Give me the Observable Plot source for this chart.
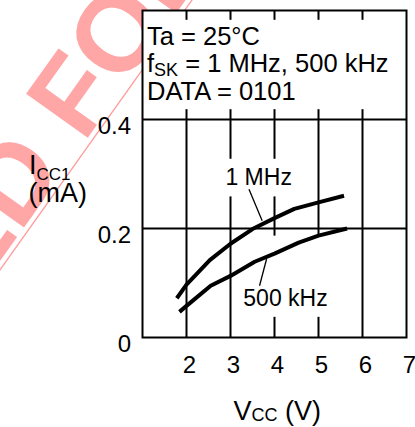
<!DOCTYPE html>
<html><head><meta charset="utf-8">
<script src="https://cdn.jsdelivr.net/npm/d3@7"></script>
<script src="https://cdn.jsdelivr.net/npm/@observablehq/plot@0.6"></script>
<style>html,body{margin:0;padding:0;background:#fff;overflow:hidden}</style>
</head><body><div id="chart"></div>
<script>
// ---- data ----
const vcc1MHz = [1.78, 2.0, 2.53, 3.0, 3.5, 4.0, 4.45, 5.0, 5.58];
const icc1MHz = [0.072, 0.097, 0.142, 0.172, 0.199, 0.219, 0.236, 0.248, 0.260];
const vcc500k = [1.84, 2.0, 2.55, 3.0, 3.55, 4.0, 4.55, 5.0, 5.65];
const icc500k = [0.047, 0.058, 0.095, 0.113, 0.139, 0.154, 0.174, 0.187, 0.200];
const seriesNames = ["1 MHz", "500 kHz"];
const xTicks = [2, 3, 4, 5, 6, 7];
const yTicks = [0, 0.2, 0.4];
const gridX = [2, 3, 4, 5, 6];
const labelX = [3.64, 4.25];
const labelY = [0.293, 0.071];
const leaderFrom = [[3.42, 0.272], [3.82, 0.144]];
const leaderTo = [[3.72, 0.214], [3.66, 0.095]];
const maskX = [[2.89, 4.48], [3.23, 5.34]];
const maskY = [[0.258, 0.327], [0.037, 0.186]];

const FONT = "'Liberation Sans', Arial, Helvetica, sans-serif";

const curves = [
  ...vcc1MHz.map((v, i) => ({s: seriesNames[0], v, i: icc1MHz[i]})),
  ...vcc500k.map((v, i) => ({s: seriesNames[1], v, i: icc500k[i]}))
];
const labels = seriesNames.map((t, k) => ({t, x: labelX[k], y: labelY[k]}));
const leaders = seriesNames.map((t, k) => ({x1: leaderFrom[k][0], y1: leaderFrom[k][1], x2: leaderTo[k][0], y2: leaderTo[k][1]}));
const masks = seriesNames.map((t, k) => ({x1: maskX[k][0], x2: maskX[k][1], y1: maskY[k][0], y2: maskY[k][1]}));
const tickLen = 0.018;

const plot = Plot.plot({
  width: 415, height: 427,
  marginLeft: 142, marginRight: 9, marginTop: 10, marginBottom: 90,
  x: {domain: [1, 7]},
  y: {domain: [0, 0.6]},
  style: {fontFamily: FONT, color: "black", background: "transparent", overflow: "visible"},
  marks: [
    Plot.frame({fill: "white"}),
    Plot.ruleX(gridX, {y1: 0, y2: 0.4, stroke: "black", strokeWidth: 2}),
    Plot.ruleX(gridX, {y1: 0.4, y2: 0.4 + tickLen, stroke: "black", strokeWidth: 2}),
    Plot.ruleX(gridX, {y1: 0.6 - tickLen, y2: 0.6, stroke: "black", strokeWidth: 2}),
    Plot.ruleY([0.2, 0.4], {stroke: "black", strokeWidth: 2}),
    Plot.rect(masks, {x1: "x1", x2: "x2", y1: "y1", y2: "y2", fill: "white"}),
    Plot.line(curves, {x: "v", y: "i", z: "s", stroke: "black", strokeWidth: 4, strokeLinecap: "butt", strokeLinejoin: "round"}),
    Plot.link(leaders, {x1: "x1", y1: "y1", x2: "x2", y2: "y2", stroke: "black", strokeWidth: 1.3}),
    Plot.text(labels, {x: "x", y: "y", text: "t", fontSize: 23, lineAnchor: "middle", fill: "black"}),
    Plot.frame({stroke: "black", strokeWidth: 2}),
    Plot.axisX({ticks: xTicks, tickSize: 0, tickPadding: 18, fontSize: 24, dx: 3, label: null, tickFormat: d => String(d)}),
    Plot.axisY({ticks: yTicks, tickSize: 0, tickPadding: 11.5, fontSize: 24, dy: 6.5, label: null,
      tickFormat: d => d === 0 ? "0" : d.toFixed(1)})
  ]
});
document.getElementById("chart").appendChild(plot);

const svg = d3.select(plot);

// watermark (behind everything)
const wm = svg.insert("g", ":first-child")
  .attr("fill", "#ffa6a6").attr("font-family", FONT).attr("font-weight", "bold").attr("font-size", 110);
wm.append("line").attr("x1", 229).attr("y1", -52).attr("x2", -48.5).attr("y2", 338)
  .attr("stroke", "#ff9a9a").attr("stroke-width", 1.3);
wm.append("text").attr("transform", "translate(65.7,168.8) rotate(-54.57)").attr("text-anchor", "end").text("NOT RECOMMENDED");
wm.append("text").attr("transform", "translate(83.5,143.8) rotate(-54.57)").attr("text-anchor", "start").text("FOR NEW DESIGN");

// text with subscripts
function rich(x, y, size, parts) {
  const t = svg.append("text").attr("x", x).attr("y", y).attr("font-family", FONT)
    .attr("font-size", size).attr("fill", "black").attr("text-anchor", "start");
  let shift = 0;
  for (const p of parts) {
    const ts = t.append("tspan").text(p.t);
    const target = p.sub ? p.shift : 0;
    if (target !== shift) { ts.attr("dy", target - shift); shift = target; }
    if (p.sub) ts.attr("font-size", p.size);
  }
  return t;
}
rich(147, 45, 25.5, [{t: "Ta = 25°C"}]);
rich(147, 72, 25.5, [{t: "f"}, {t: "SK", sub: true, size: 18, shift: 4}, {t: " = 1 MHz, 500 kHz"}]);
rich(147, 100, 25.5, [{t: "DATA = 0101"}]);
rich(29, 174, 27, [{t: "I"}, {t: "CC1", sub: true, size: 17, shift: 6}]);
rich(28.5, 202, 27, [{t: "(mA)"}]);
rich(233.5, 420, 27, [{t: "V"}, {t: "CC", sub: true, size: 18, shift: 1}, {t: " (V)"}]);
</script>
</body></html>
